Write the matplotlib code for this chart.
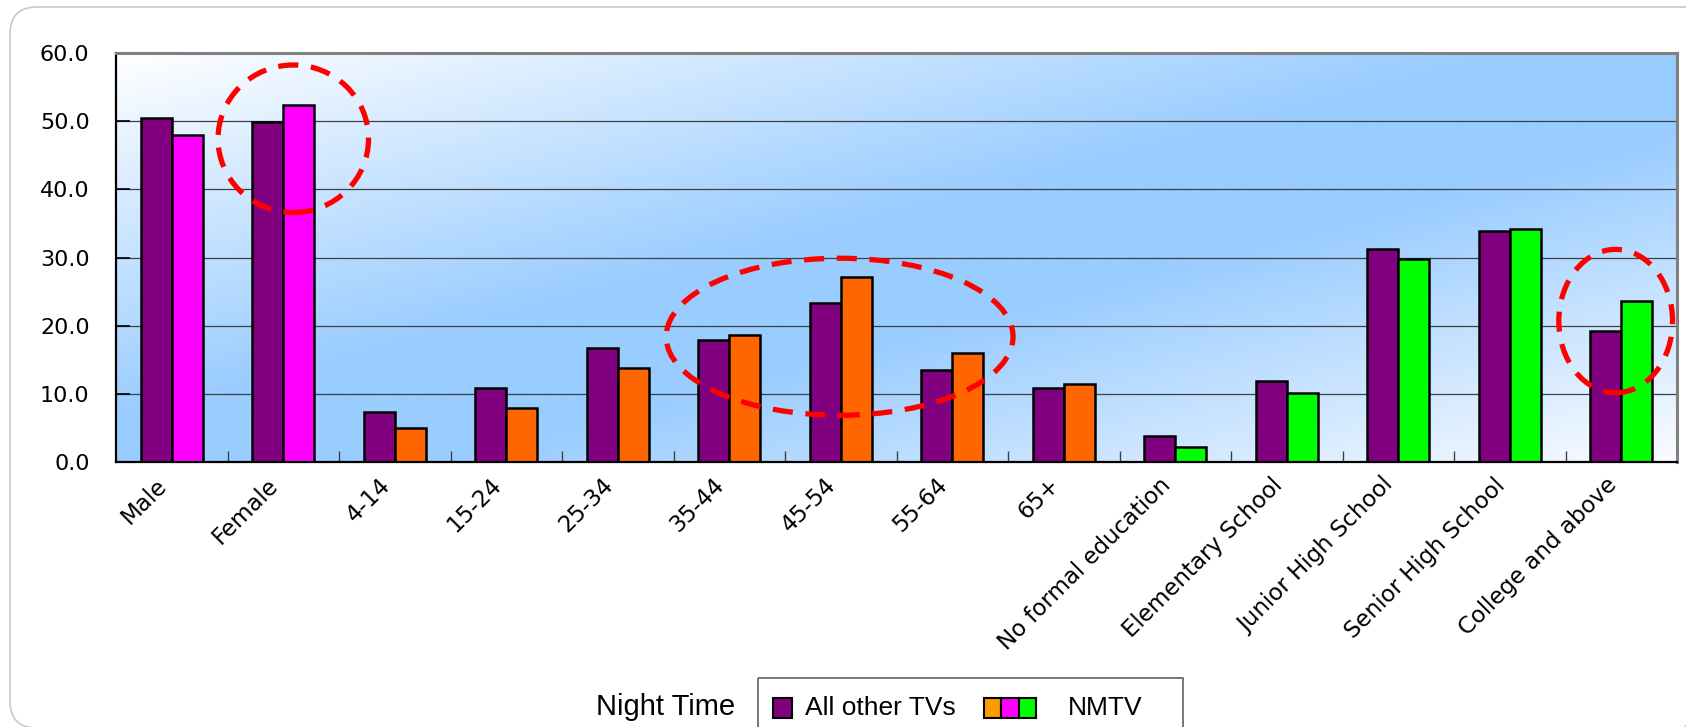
import numpy as np
import matplotlib
matplotlib.use("Agg")
import matplotlib.pyplot as plt
from matplotlib.patches import Ellipse, Rectangle, FancyBboxPatch
from matplotlib.colors import LinearSegmentedColormap
from matplotlib import font_manager

# data
categories = ['Male', 'Female', '4-14', '15-24', '25-34', '35-44', '45-54',
              '55-64', '65+', 'No formal education', 'Elementary School',
              'Junior High School', 'Senior High School', 'College and above']
all_other_tvs = [50.4, 49.8, 7.4, 10.9, 16.7, 17.9, 23.3, 13.5, 10.9, 3.9,
                 11.9, 31.3, 33.9, 19.2]
nmtv = [47.9, 52.3, 5.1, 8.0, 13.8, 18.6, 27.2, 16.0, 11.5, 2.3,
        10.2, 29.8, 34.2, 23.6]
group_sizes = [2, 7, 5]          # gender, age, education
nmtv_colors = ['#FF00FF', '#FF6600', '#00FF00']
legend_colors = ['#FF9900', '#FF00FF', '#00FF00']

# highlighted groups: (category center, value center, width, height)
highlights = [(1.09, 47.4, 1.35, 21.6),
              (5.99, 18.4, 3.11, 23.0),
              (12.95, 20.7, 1.02, 21.0)]

W, H = 1686, 727
fig = plt.figure(figsize=(W / 100, H / 100), dpi=100)
fig.patch.set_facecolor('white')

ax = fig.add_axes([116 / W, 1 - 462.4 / H, (1677 - 116) / W, (462.4 - 52.7) / H])

# diagonal background gradient, white -> blue -> white
cmap = LinearSegmentedColormap.from_list(
    'bg', [(0, '#FFFFFF'), (0.45, '#99CCFF'), (0.6, '#99CCFF'), (1, '#FAFCFF')])
gx, gy = np.meshgrid(np.linspace(0, 1, 400), np.linspace(1, 0, 200))
grad = 0.5 * (gx + (1 - gy))
ax.imshow(grad, extent=[0, 1, 0, 1], transform=ax.transAxes, aspect='auto',
          cmap=cmap, vmin=0, vmax=1, zorder=0, origin='upper')

x = np.arange(len(categories))
w = 0.28
bar_cols = np.repeat(nmtv_colors, group_sizes)
ax.bar(x - w / 2, all_other_tvs, w, color='#800080', edgecolor='black', lw=1.8, zorder=2)
ax.bar(x + w / 2, nmtv, w, color=bar_cols, edgecolor='black', lw=1.8, zorder=2)

ax.set_xlim(-0.5, len(categories) - 0.5)
ax.set_ylim(0, 60)
ax.set_yticks(np.arange(0, 61, 10))
ax.set_yticklabels([f'{v:.1f}' for v in np.arange(0, 61, 10)], fontsize=16)
ax.set_xticks(x)
ax.set_xticklabels(categories, rotation=45, ha='right', fontsize=16.5)
ax.set_xticks(np.arange(0.5, len(categories) - 1, 1), minor=True)
ax.tick_params(axis='x', which='major', length=0, pad=8)
ax.tick_params(axis='x', which='minor', direction='in', length=8, width=1, color='#404040')
ax.tick_params(axis='y', direction='in', length=10, width=1.2, pad=19)

ax.yaxis.grid(True, color='#404040', lw=0.9)
ax.set_axisbelow(True)
for s in ['left', 'bottom']:
    ax.spines[s].set_color('black')
    ax.spines[s].set_linewidth(1.6)
for s in ['top', 'right']:
    ax.spines[s].set_color('#808080')
    ax.spines[s].set_linewidth(2.2)

for cx, cy, ew, eh in highlights:
    ax.add_patch(Ellipse((cx, cy), ew, eh, fill=False, edgecolor='#FF0000',
                         lw=3.8, linestyle=(0, (3.8, 2.4)), zorder=5, clip_on=False))

# overlay in pixel coordinates for frame and legend
ov = fig.add_axes([0, 0, 1, 1], zorder=-1)
ov.set_xlim(0, W)
ov.set_ylim(H, 0)
ov.axis('off')
ov.add_patch(FancyBboxPatch((10, 7), 1700, 721, boxstyle='round,pad=0,rounding_size=27',
                            fill=False, edgecolor='#C8C8C8', lw=1.2))

names = {f.name for f in font_manager.fontManager.ttflist}
if 'Liberation Sans Narrow' in names:
    lfont, lsize = 'Liberation Sans Narrow', 23
else:
    lfont, lsize = 'Liberation Sans', 19

ov2 = fig.add_axes([0, 0, 1, 1], zorder=3)
ov2.set_xlim(0, W)
ov2.set_ylim(H, 0)
ov2.axis('off')
ov2.text(596, 707, 'Night Time', fontsize=lsize + 2, family=lfont, va='center', ha='left')
ov2.add_patch(Rectangle((758, 678), 425, 80, fill=False, edgecolor='#606060', lw=1.2, clip_on=False))
ov2.add_patch(Rectangle((773, 698), 19, 20, facecolor='#800080', edgecolor='black', lw=1.5))
ov2.text(805, 708, 'All other TVs', fontsize=lsize, family=lfont, va='center', ha='left')
for i, c in enumerate(legend_colors):
    ov2.add_patch(Rectangle((984 + i * 17.3, 698), 17.3, 20, facecolor=c, edgecolor='black', lw=1.5))
ov2.text(1068, 708, 'NMTV', fontsize=lsize, family=lfont, va='center', ha='left')

fig.savefig('out.png', dpi=100)
